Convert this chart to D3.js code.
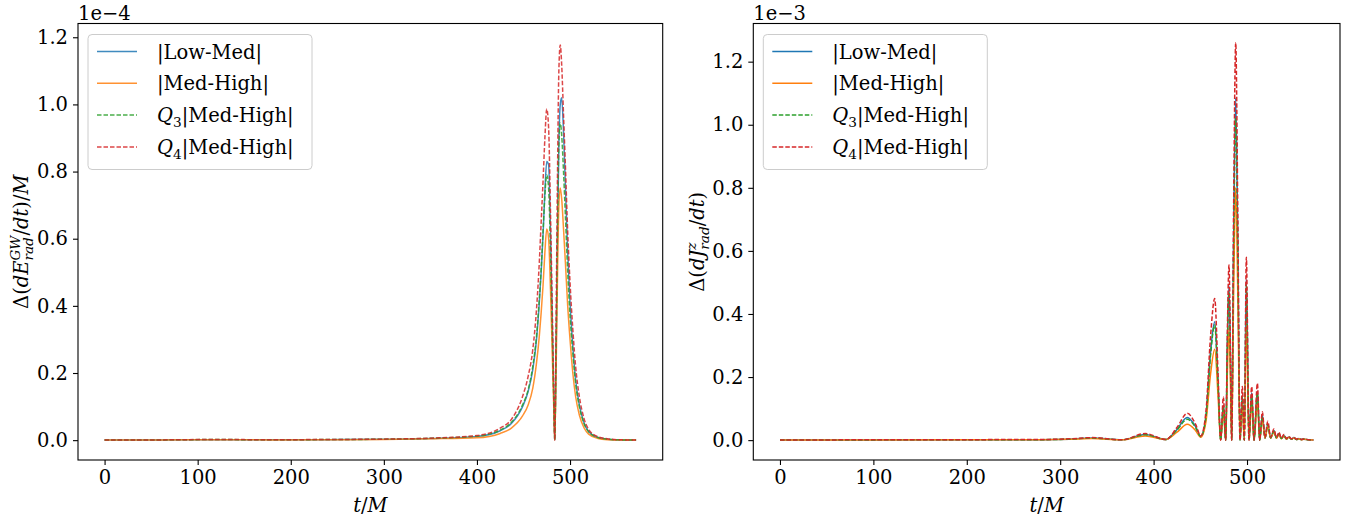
<!DOCTYPE html>
<html>
<head>
<meta charset="utf-8">
<script src="https://cdn.jsdelivr.net/npm/d3@7"></script>
<style>
  body { margin: 0; background: #fff; }
  svg text { font-family: "DejaVu Serif", serif; fill: #000; }
</style>
</head>
<body>
<div id="chart"></div>
<script>
// ---- data (values in units of the offset shown above each panel) ----
const xTicks = [0, 100, 200, 300, 400, 500];
const yTicks = [0, 0.2, 0.4, 0.6, 0.8, 1.0, 1.2];
const seriesNames = ['|Low-Med|', '|Med-High|', 'Q3', 'Q4'];
const seriesColors = ['#1f77b4', '#ff7f0e', '#2ca02c', '#d62728'];

// left panel: Δ(dE/dt)/M, ×1e-4
const leftT = [0, 60, 120, 180, 240, 300, 350, 400, 425, 437, 449, 455, 460, 464, 467, 469, 471, 473, 475, 477, 479,
  481, 482.5, 483.6, 485, 486.5, 488, 489.5, 491, 493, 495, 497.5, 500, 503, 506, 510, 515, 520, 530, 540, 555, 571];
const leftLowMed = [0.0004, 0.0006, 0.0015, 0.001, 0.0015, 0.0025, 0.005, 0.011, 0.028, 0.05, 0.1,
  0.145, 0.21, 0.3, 0.41, 0.5, 0.61, 0.74, 0.83, 0.82, 0.62, 0.34, 0.14, 0.0, 0.25, 0.6,
  0.88, 1.0, 1.02, 0.92, 0.76, 0.56, 0.41, 0.28, 0.18, 0.105, 0.052, 0.026, 0.008, 0.003, 0.0008, 0.0004];
const leftMedHigh = [0.0003, 0.0005, 0.0012, 0.0008, 0.0012, 0.002, 0.004, 0.007, 0.02, 0.036, 0.072,
  0.105, 0.155, 0.23, 0.31, 0.38, 0.46, 0.56, 0.629, 0.6, 0.45, 0.25, 0.1, 0.0, 0.2, 0.48,
  0.7, 0.751, 0.72, 0.63, 0.53, 0.4, 0.3, 0.2, 0.13, 0.075, 0.037, 0.018, 0.005, 0.0015, 0.0005, 0.0003];
const leftQ3 = [0.0004, 0.0007, 0.0018, 0.0011, 0.0018, 0.0028, 0.0055, 0.012, 0.03, 0.053, 0.105,
  0.15, 0.22, 0.31, 0.42, 0.51, 0.62, 0.73, 0.79, 0.75, 0.56, 0.31, 0.12, 0.0, 0.27, 0.62,
  0.88, 0.944, 0.91, 0.8, 0.67, 0.5, 0.37, 0.26, 0.17, 0.1, 0.05, 0.025, 0.008, 0.003, 0.0008, 0.0004];
const leftQ4 = [0.0005, 0.0008, 0.002, 0.0012, 0.002, 0.003, 0.006, 0.014, 0.036, 0.062, 0.13,
  0.19, 0.27, 0.39, 0.53, 0.65, 0.77, 0.9, 0.986, 0.93, 0.68, 0.38, 0.15, 0.0, 0.35, 0.78,
  1.1, 1.177, 1.12, 0.97, 0.82, 0.62, 0.47, 0.33, 0.22, 0.13, 0.065, 0.032, 0.01, 0.004, 0.001, 0.0005];

// right panel: Δ(dJz/dt), ×1e-3
const rightT = [0, 100, 200, 280, 310, 334, 366, 391, 413, 425, 436, 445, 450.5, 456, 461, 465.4, 469, 471.8, 474.7, 477.2,
  479, 480.7, 482.3, 483.6, 485.7, 487.9, 490.2, 492.5, 495, 497.1, 499.3, 502.1, 505, 507.5, 511.1, 513.6, 516.4, 519.3,
  522.2, 525.3, 528.8, 531.5, 534.1, 536.8, 539.5, 542.2, 544.8, 547.5, 550.2, 552.9, 555.5, 558.2, 560.9, 566, 571];
const rightLowMed = [0.0004, 0.0008, 0.0012, 0.0015, 0.003, 0.007, 0.001, 0.018, 0.002, 0.034,
  0.072, 0.043, 0.012, 0.075, 0.28, 0.375, 0.18, 0.0, 0.11, 0.0, 0.31, 0.49, 0.25, 0.0, 0.65,
  1.085, 0.6, 0.0, 0.14, 0.0, 0.51, 0.0, 0.15, 0.0, 0.155, 0.0, 0.08, 0.007, 0.05, 0.007,
  0.03, 0.007, 0.021, 0.005, 0.015, 0.004, 0.01, 0.003, 0.008, 0.002, 0.005, 0.002, 0.003, 0.001, 0.0004];
const rightMedHigh = [0.0003, 0.0006, 0.001, 0.0012, 0.0025, 0.005, 0.001, 0.013, 0.002, 0.025,
  0.05, 0.03, 0.009, 0.058, 0.21, 0.288, 0.14, 0.0, 0.09, 0.0, 0.22, 0.355, 0.18, 0.0, 0.47,
  0.8, 0.45, 0.0, 0.12, 0.0, 0.37, 0.0, 0.12, 0.0, 0.12, 0.0, 0.065, 0.006, 0.045, 0.006,
  0.026, 0.006, 0.018, 0.004, 0.013, 0.003, 0.009, 0.003, 0.007, 0.002, 0.004, 0.0015, 0.0025, 0.001, 0.0003];
const rightQ3 = [0.0004, 0.0008, 0.0012, 0.0015, 0.003, 0.0065, 0.001, 0.017, 0.002, 0.032,
  0.066, 0.04, 0.011, 0.072, 0.27, 0.365, 0.175, 0.0, 0.105, 0.0, 0.3, 0.47, 0.24, 0.0, 0.61,
  1.02, 0.57, 0.0, 0.14, 0.0, 0.49, 0.0, 0.14, 0.0, 0.15, 0.0, 0.075, 0.007, 0.05, 0.007,
  0.029, 0.007, 0.02, 0.005, 0.014, 0.004, 0.01, 0.003, 0.007, 0.002, 0.005, 0.002, 0.003, 0.001, 0.0004];
const rightQ4 = [0.0005, 0.001, 0.0015, 0.002, 0.004, 0.008, 0.001, 0.021, 0.002, 0.04,
  0.085, 0.05, 0.013, 0.09, 0.33, 0.449, 0.21, 0.0, 0.137, 0.0, 0.35, 0.555, 0.28, 0.0, 0.75,
  1.26, 0.7, 0.0, 0.17, 0.0, 0.58, 0.0, 0.17, 0.0, 0.18, 0.0, 0.09, 0.008, 0.06, 0.008,
  0.035, 0.008, 0.025, 0.006, 0.018, 0.005, 0.012, 0.004, 0.009, 0.003, 0.006, 0.002, 0.004, 0.001, 0.0005];

// ---- layout ----
const W = 1364, H = 520;
const FS = 19.5;
const svg = d3.select('#chart').append('svg').attr('width', W).attr('height', H);

// lays out a run of plain / italic / sub-superscript pieces, returns group + width
function richText(parent, runs, size) {
  const g = parent.append('g');
  let x = 0;
  runs.forEach(r => {
    if (r.sup !== undefined || r.sub !== undefined) {
      let w = 0;
      if (r.sup) {
        const t = g.append('text').attr('x', x).attr('y', -size * 0.4).attr('font-size', size * 0.7)
          .attr('font-style', 'italic').text(r.sup);
        w = Math.max(w, t.node().getComputedTextLength());
      }
      if (r.sub) {
        const t = g.append('text').attr('x', x).attr('y', size * 0.24).attr('font-size', size * 0.7)
          .attr('font-style', r.subUpright ? 'normal' : 'italic').text(r.sub);
        w = Math.max(w, t.node().getComputedTextLength());
      }
      x += w;
    } else {
      const t = g.append('text').attr('x', x).attr('font-size', size)
        .attr('font-style', r.it ? 'italic' : 'normal').text(r.t);
      x += t.node().getComputedTextLength();
    }
  });
  return { g, width: x };
}

function legendRuns(name) {
  if (name === 'Q3') return [{ t: 'Q', it: true }, { sub: '3', subUpright: true }, { t: '|Med-High|' }];
  if (name === 'Q4') return [{ t: 'Q', it: true }, { sub: '4', subUpright: true }, { t: '|Med-High|' }];
  return [{ t: name }];
}

const panels = [
  {
    box: { x0: 78, x1: 662.7, y0: 23.5, y1: 460 },
    yDomain: [-0.0591, 1.241],
    t: leftT,
    series: [leftLowMed, leftMedHigh, leftQ3, leftQ4],
    offset: '1e\u22124',
    ylabel: [{ t: 'Δ(' }, { t: 'dE', it: true }, { sup: 'GW', sub: 'rad' }, { t: '/' }, { t: 'dt', it: true }, { t: ')/' }, { t: 'M', it: true }],
    ylabelX: 28,
    opacity: 0.85
  },
  {
    box: { x0: 753.3, x1: 1340, y0: 23.5, y1: 460 },
    yDomain: [-0.063, 1.321],
    t: rightT,
    series: [rightLowMed, rightMedHigh, rightQ3, rightQ4],
    offset: '1e\u22123',
    ylabel: [{ t: 'Δ(' }, { t: 'dJ', it: true }, { sup: 'z', sub: 'rad' }, { t: '/' }, { t: 'dt', it: true }, { t: ')' }],
    ylabelX: 704,
    opacity: 1
  }
];

panels.forEach(p => {
  const b = p.box;
  const x = d3.scaleLinear().domain([-28.55, 599.55]).range([b.x0, b.x1]);
  const y = d3.scaleLinear().domain(p.yDomain).range([b.y1, b.y0]);

  const g = svg.append('g');

  // axes
  const xAxis = g.append('g').attr('transform', `translate(0,${b.y1})`)
    .call(d3.axisBottom(x).tickValues(xTicks).tickSize(5).tickPadding(5).tickSizeOuter(0).tickFormat(d3.format('d')));
  const yAxis = g.append('g').attr('transform', `translate(${b.x0},0)`)
    .call(d3.axisLeft(y).tickValues(yTicks).tickSize(5).tickPadding(5).tickSizeOuter(0).tickFormat(d3.format('.1f')));
  [xAxis, yAxis].forEach(a => {
    a.select('.domain').remove();
    a.selectAll('.tick line').attr('stroke', '#000').attr('stroke-width', 1.1);
    a.selectAll('.tick text').attr('font-size', FS).attr('font-family', '"DejaVu Serif", serif').attr('fill', '#000');
  });

  // curves
  const clip = 'clip' + b.x0;
  svg.append('defs').append('clipPath').attr('id', clip)
    .append('rect').attr('x', b.x0).attr('y', b.y0).attr('width', b.x1 - b.x0).attr('height', b.y1 - b.y0);
  const line = d3.line().x(d => x(d[0])).y(d => y(d[1])).curve(d3.curveMonotoneX);
  const lines = g.append('g').attr('clip-path', `url(#${clip})`);
  p.series.forEach((vals, i) => {
    const pts = p.t.map((t, k) => [t, vals[k]]);
    lines.append('path').attr('d', line(pts))
      .attr('fill', 'none')
      .attr('stroke', seriesColors[i])
      .attr('stroke-opacity', p.opacity)
      .attr('stroke-width', 1.5)
      .attr('stroke-dasharray', i < 2 ? null : '4.5,2')
      .attr('stroke-linejoin', 'round');
  });

  // frame
  g.append('rect').attr('x', b.x0).attr('y', b.y0).attr('width', b.x1 - b.x0).attr('height', b.y1 - b.y0)
    .attr('fill', 'none').attr('stroke', '#000').attr('stroke-width', 1.1);

  // offset text
  g.append('text').attr('x', b.x0).attr('y', 19.5).attr('font-size', FS).text(p.offset);

  // x label
  const xl = g.append('g').attr('transform', `translate(${(b.x0 + b.x1) / 2},512)`);
  const xr = richText(xl, [{ t: 't', it: true }, { t: '/' }, { t: 'M', it: true }], FS);
  xr.g.attr('transform', `translate(${-xr.width / 2},0)`);

  // y label
  const yl = g.append('g').attr('transform', `translate(${p.ylabelX},${(b.y0 + b.y1) / 2}) rotate(-90)`);
  const yr = richText(yl, p.ylabel, FS);
  yr.g.attr('transform', `translate(${-yr.width / 2},0)`);

  // legend
  const lg = g.append('g').attr('transform', `translate(${b.x0 + 10},${b.y0 + 11})`);
  lg.append('rect').attr('width', 224).attr('height', 135).attr('rx', 4)
    .attr('fill', '#fff').attr('fill-opacity', 0.8).attr('stroke', '#cccccc').attr('stroke-width', 1);
  seriesNames.forEach((name, i) => {
    const ry = 17 + i * 31.8;
    lg.append('line').attr('x1', 9).attr('x2', 49).attr('y1', ry).attr('y2', ry)
      .attr('stroke', seriesColors[i]).attr('stroke-opacity', p.opacity)
      .attr('stroke-width', 1.5)
      .attr('stroke-dasharray', i < 2 ? null : '4.5,2');
    const tg = lg.append('g').attr('transform', `translate(69,${ry + 7})`);
    richText(tg, legendRuns(name), FS);
  });
});
</script>
</body>
</html>
